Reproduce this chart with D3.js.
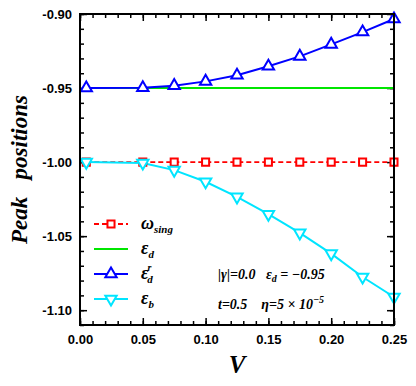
<!DOCTYPE html>
<html>
<head>
<meta charset="utf-8">
<script src="https://cdn.jsdelivr.net/npm/d3@7"></script>
<style>
  body { margin: 0; background: white; }
  .tick text { font-family: "Liberation Sans", Arial, sans-serif; font-weight: bold; font-size: 13px; fill: black; }
  .serif { font-family: "Liberation Serif", "Times New Roman", serif; font-weight: bold; font-style: italic; }
</style>
</head>
<body>
<svg width="416" height="386"></svg>
<script>
// data
const vValues = [0.005, 0.05, 0.075, 0.1, 0.125, 0.15, 0.175, 0.2, 0.225, 0.25];
const omegaSing = [-1.0, -1.0, -1.0, -1.0, -1.0, -1.0, -1.0, -1.0, -1.0, -1.0];
const epsD = [-0.95, -0.95];
const epsDV = [0.005, 0.25];
const epsDr = [-0.9500, -0.9498, -0.9484, -0.9455, -0.9414, -0.9353, -0.9286, -0.9205, -0.9122, -0.9034];
const epsB = [-1.0000, -1.0006, -1.0054, -1.0133, -1.0235, -1.0352, -1.0478, -1.0618, -1.0776, -1.0911];

const xTicks = [0, 0.05, 0.1, 0.15, 0.2, 0.25];
const yTicks = [-0.90, -0.95, -1.00, -1.05, -1.10];

const svg = d3.select("svg");
const pLeft = 80, pRight = 394, pTop = 14, pBottom = 325;

const x = d3.scaleLinear().domain([0, 0.25]).range([pLeft, pRight]);
const y = d3.scaleLinear().domain([-1.11, -0.90]).range([pBottom, pTop]);

// minor ticks every 0.01
const xMinor = d3.range(0, 0.2501, 0.01);
const yMinor = d3.range(-1.11, -0.8999, 0.01);

function addAxis(axisFn, scale, tr, values, size, labels) {
  let ax = axisFn(scale).tickValues(values).tickSize(-size).tickPadding(labels ? 10 : 0);
  if (labels) ax.tickFormat(d => d.toFixed(2));   // plain hyphen minus like the original
  else ax.tickFormat("");
  let g = svg.append("g").attr("transform", tr).call(ax);
  g.select(".domain").remove();
  g.selectAll(".tick line").attr("stroke", "black").attr("stroke-width", 1.5);
  return g;
}

addAxis(d3.axisBottom, x, `translate(0,${pBottom})`, xMinor, 4, false);
addAxis(d3.axisBottom, x, `translate(0,${pBottom})`, xTicks, 7, true);
addAxis(d3.axisTop, x, `translate(0,${pTop})`, xMinor, 4, false);
addAxis(d3.axisTop, x, `translate(0,${pTop})`, xTicks, 7, false);
addAxis(d3.axisLeft, y, `translate(${pLeft},0)`, yMinor, 4, false);
let yl = addAxis(d3.axisLeft, y, `translate(${pLeft},0)`, yTicks, 7, true);
yl.selectAll(".tick text").attr("x", -8);
addAxis(d3.axisRight, y, `translate(${pRight},0)`, yMinor, 4, false);
addAxis(d3.axisRight, y, `translate(${pRight},0)`, yTicks, 7, false);

// lines
const line = d3.line().x(d => x(d[0])).y(d => y(d[1]));

svg.append("path").datum(d3.zip(vValues, omegaSing)).attr("d", line)
  .attr("fill", "none").attr("stroke", "#ff0000").attr("stroke-width", 1.6).attr("stroke-dasharray", "5,3");
svg.append("path").datum(d3.zip(epsDV, epsD)).attr("d", line)
  .attr("fill", "none").attr("stroke", "#00e600").attr("stroke-width", 2);
svg.append("path").datum(d3.zip(vValues, epsDr)).attr("d", line)
  .attr("fill", "none").attr("stroke", "#0000ff").attr("stroke-width", 2);
svg.append("path").datum(d3.zip(vValues, epsB)).attr("d", line)
  .attr("fill", "none").attr("stroke", "#00e5ff").attr("stroke-width", 2);

// markers
const sq = d3.symbol().type(d3.symbolSquare).size(50);
const tri = d3.symbol().type(d3.symbolTriangle).size(56);

function markers(vals, sym, color, rot) {
  svg.append("g").selectAll("path").data(d3.zip(vValues, vals)).enter().append("path")
    .attr("d", sym)
    .attr("transform", d => `translate(${x(d[0])},${y(d[1])}) rotate(${rot})`)
    .attr("fill", "white").attr("stroke", color).attr("stroke-width", 2);
}
markers(omegaSing, sq, "#ff0000", 0);
markers(epsDr, tri, "#0000ff", 0);
markers(epsB, tri, "#00e5ff", 180);

// frame
svg.append("rect").attr("x", pLeft).attr("y", pTop).attr("width", pRight - pLeft).attr("height", pBottom - pTop)
  .attr("fill", "none").attr("stroke", "black").attr("stroke-width", 2);

// axis titles
svg.append("text").attr("class", "serif").attr("font-size", 23)
  .attr("transform", `translate(27,${(pTop + pBottom) / 2}) rotate(-90)`)
  .attr("text-anchor", "middle").attr("xml:space", "preserve").text("Peak   positions");
svg.append("text").attr("class", "serif").attr("font-size", 25)
  .attr("x", (pLeft + pRight) / 2).attr("y", 373).attr("text-anchor", "middle").text("V");

// legend
const legend = [
  { color: "#ff0000", dash: "5,3", sym: sq, rot: 0, main: "ω", sub: "sing", sup: "" },
  { color: "#00e600", dash: null, sym: null, rot: 0, main: "ε", sub: "d", sup: "" },
  { color: "#0000ff", dash: null, sym: tri, rot: 0, main: "ε", sub: "d", sup: "r" },
  { color: "#00e5ff", dash: null, sym: tri, rot: 180, main: "ε", sub: "b", sup: "" }
];
const legY = [224, 249, 274, 299];

legend.forEach((d, i) => {
  let g = svg.append("g").attr("transform", `translate(0,${legY[i]})`);
  g.append("line").attr("x1", 94).attr("x2", 128).attr("y1", 0).attr("y2", 0)
    .attr("stroke", d.color).attr("stroke-width", 2).attr("stroke-dasharray", d.dash);
  if (d.sym) {
    g.append("path").attr("d", d.sym).attr("transform", `translate(111,0) rotate(${d.rot})`)
      .attr("fill", "white").attr("stroke", d.color).attr("stroke-width", 2);
  }
  let t = g.append("text").attr("class", "serif").attr("x", 141).attr("y", 5).attr("font-size", 18);
  t.append("tspan").text(d.main);
  if (d.sup) {
    t.append("tspan").attr("font-size", 10).attr("dy", -8).attr("dx", -1).text(d.sup);
    t.append("tspan").attr("font-size", 11).attr("dy", 12).attr("dx", -4).text(d.sub);
  } else {
    t.append("tspan").attr("font-size", 11).attr("dy", 4).text(d.sub);
  }
});

// annotations
let a1 = svg.append("text").attr("class", "serif").attr("x", 218).attr("y", 279).attr("font-size", 14)
  .attr("xml:space", "preserve");
a1.append("tspan").text("|γ|=0.0   ε");
a1.append("tspan").attr("font-size", 10).attr("dy", 3).text("d");
a1.append("tspan").attr("dy", -3).text(" = −0.95");

let a2 = svg.append("text").attr("class", "serif").attr("x", 218).attr("y", 309).attr("font-size", 14)
  .attr("xml:space", "preserve");
a2.append("tspan").text("t=0.5    η=5 × 10");
a2.append("tspan").attr("font-size", 10).attr("dy", -6).text("−5");
</script>
</body>
</html>
